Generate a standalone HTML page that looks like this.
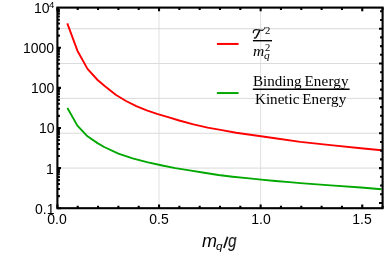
<!DOCTYPE html>
<html><head><meta charset="utf-8"><style>
html,body{margin:0;padding:0;background:#fff;}
body{width:387px;height:254px;position:relative;overflow:hidden;-webkit-font-smoothing:antialiased;font-family:"Liberation Sans",sans-serif;color:#000;}
.yl,.xl,.ax,.ser{will-change:transform;}
.yl{position:absolute;right:332.8px;height:16px;line-height:16px;font-size:14px;white-space:nowrap;text-align:right;}
.yl sup{font-size:9.5px;vertical-align:baseline;position:relative;top:-5.3px;margin-left:-0.6px;line-height:0;}
.xl{position:absolute;top:211.2px;width:40px;text-align:center;height:16px;line-height:16px;font-size:14px;}
.ax{position:absolute;left:202px;top:232px;font-size:16.5px;font-style:italic;line-height:20px;white-space:nowrap;}
.ax sub{font-size:11px;vertical-align:baseline;position:relative;top:4px;line-height:0;}
.en{margin-left:-1px;letter-spacing:0.17px;}
.ser{font-family:"Liberation Serif",serif;position:absolute;white-space:nowrap;color:#000;}
</style></head><body>
<svg width="387" height="254" viewBox="0 0 387 254" style="position:absolute;left:0;top:0">
<line x1="159.03" y1="7.6" x2="159.03" y2="208.2" stroke="#e0e0e0" stroke-width="1"/>
<line x1="260.65" y1="7.6" x2="260.65" y2="208.2" stroke="#e0e0e0" stroke-width="1"/>
<line x1="57.4" y1="28.69" x2="382.6" y2="28.69" stroke="#dadada" stroke-width="1"/>
<line x1="57.4" y1="63.54" x2="382.6" y2="63.54" stroke="#dadada" stroke-width="1"/>
<line x1="57.4" y1="98.38" x2="382.6" y2="98.38" stroke="#dadada" stroke-width="1"/>
<line x1="57.4" y1="133.23" x2="382.6" y2="133.23" stroke="#dadada" stroke-width="1"/>
<line x1="57.4" y1="168.08" x2="382.6" y2="168.08" stroke="#dadada" stroke-width="1"/>
<path d="M67.3,23.4 L77.4,50.7 L87.5,68.9 L97.6,80.0 L105.3,86.5 L115.7,94.8 L126.0,101.0 L136.3,106.2 L146.7,110.3 L157.0,113.8 L167.3,116.9 L179.2,120.5 L193.4,124.4 L207.6,127.6 L221.9,130.1 L236.1,132.7 L250.3,134.7 L264.5,136.7 L275.0,138.2 L300.3,141.9 L330.6,145.1 L360.9,148.2 L381.5,150.2" fill="none" stroke="#ff0000" stroke-width="1.9" stroke-linejoin="round"/>
<path d="M67.4,108.0 L77.4,125.6 L87.5,136.3 L97.5,143.1 L104.2,147.0 L118.4,153.6 L132.6,158.4 L146.9,162.1 L161.1,165.2 L175.3,168.1 L189.5,170.4 L204.2,172.7 L218.4,175.0 L232.6,176.7 L246.9,178.1 L261.1,179.6 L275.3,181.0 L289.5,182.1 L300.3,183.1 L330.6,185.4 L361.0,187.5 L381.5,189.2" fill="none" stroke="#00a800" stroke-width="1.9" stroke-linejoin="round"/>
<path d="M57.40,208.2v-3.6M57.40,7.6v3.6M77.72,208.2v-2.5M77.72,7.6v2.5M98.05,208.2v-2.5M98.05,7.6v2.5M118.38,208.2v-2.5M118.38,7.6v2.5M138.70,208.2v-2.5M138.70,7.6v2.5M159.03,208.2v-3.6M159.03,7.6v3.6M179.35,208.2v-2.5M179.35,7.6v2.5M199.68,208.2v-2.5M199.68,7.6v2.5M220.00,208.2v-2.5M220.00,7.6v2.5M240.33,208.2v-2.5M240.33,7.6v2.5M260.65,208.2v-3.6M260.65,7.6v3.6M280.98,208.2v-2.5M280.98,7.6v2.5M301.30,208.2v-2.5M301.30,7.6v2.5M321.62,208.2v-2.5M321.62,7.6v2.5M341.95,208.2v-2.5M341.95,7.6v2.5M362.27,208.2v-3.6M362.27,7.6v3.6M382.60,208.2v-2.5M382.60,7.6v2.5M57.4,208.20h3.6M57.4,196.12h2.5M57.4,189.06h2.5M57.4,184.05h2.5M57.4,180.16h2.5M57.4,176.98h2.5M57.4,174.29h2.5M57.4,171.97h2.5M57.4,169.92h2.5M57.4,168.08h3.6M57.4,156.00h2.5M57.4,148.94h2.5M57.4,143.93h2.5M57.4,140.04h2.5M57.4,136.86h2.5M57.4,134.17h2.5M57.4,131.85h2.5M57.4,129.80h2.5M57.4,127.96h3.6M57.4,115.88h2.5M57.4,108.82h2.5M57.4,103.81h2.5M57.4,99.92h2.5M57.4,96.74h2.5M57.4,94.05h2.5M57.4,91.73h2.5M57.4,89.68h2.5M57.4,87.84h3.6M57.4,75.76h2.5M57.4,68.70h2.5M57.4,63.69h2.5M57.4,59.80h2.5M57.4,56.62h2.5M57.4,53.93h2.5M57.4,51.61h2.5M57.4,49.56h2.5M57.4,47.72h3.6M57.4,35.64h2.5M57.4,28.58h2.5M57.4,23.57h2.5M57.4,19.68h2.5M57.4,16.50h2.5M57.4,13.81h2.5M57.4,11.49h2.5M57.4,9.44h2.5M382.6,202.93h-3.6M382.6,194.22h-2.5M382.6,185.50h-2.5M382.6,176.79h-2.5M382.6,168.08h-3.6M382.6,159.37h-2.5M382.6,150.66h-2.5M382.6,141.94h-2.5M382.6,133.23h-3.6M382.6,124.52h-2.5M382.6,115.81h-2.5M382.6,107.10h-2.5M382.6,98.38h-3.6M382.6,89.67h-2.5M382.6,80.96h-2.5M382.6,72.25h-2.5M382.6,63.54h-3.6M382.6,54.82h-2.5M382.6,46.11h-2.5M382.6,37.40h-2.5M382.6,28.69h-3.6M382.6,19.98h-2.5M382.6,11.26h-2.5" stroke="#000" stroke-width="2.1" fill="none"/>
<rect x="57.4" y="7.6" width="325.20000000000005" height="200.6" fill="none" stroke="#000" stroke-width="2.1"/>
<line x1="216.9" y1="43.95" x2="238.6" y2="43.95" stroke="#ff0000" stroke-width="2.0"/>
<line x1="216.9" y1="93.05" x2="238.6" y2="93.05" stroke="#00a800" stroke-width="2.0"/>
<line x1="252.9" y1="40.7" x2="272" y2="40.7" stroke="#000" stroke-width="1.4"/>
<line x1="252.8" y1="89.3" x2="349.6" y2="89.3" stroke="#000" stroke-width="1.4"/>
<path d="M253.3,32.7 C253.2,30.6 254.4,29.5 256.4,29.5 C258.8,29.5 260.4,30.5 262.3,30.4" fill="none" stroke="#111" stroke-width="1.25" stroke-linecap="round"/>
<path d="M262.3,30.4 C263.7,30.3 264.4,29.3 264.8,27.6" fill="none" stroke="#111" stroke-width="1.0" stroke-linecap="round"/>
<path d="M259.7,30.4 C258.7,33 257.3,35.4 256.1,37.4 C255.7,38 255.1,38.2 254.5,38" fill="none" stroke="#111" stroke-width="1.55" stroke-linecap="round"/>
<line x1="223.9" y1="247.9" x2="227.6" y2="236.8" stroke="#111" stroke-width="1.7"/>
</svg>
<div class="yl" style="top:0.0px">10<sup>4</sup></div><div class="yl" style="top:40.1px">1000</div><div class="yl" style="top:80.2px">100</div><div class="yl" style="top:120.4px">10</div><div class="yl" style="top:160.5px">1</div><div class="yl" style="top:200.6px">0.1</div><div class="xl" style="left:37.4px">0.0</div><div class="xl" style="left:139.0px">0.5</div><div class="xl" style="left:240.7px">1.0</div><div class="xl" style="left:342.3px">1.5</div>
<div class="ax" style="left:202.3px;top:231.3px;font-size:18px;transform:scaleX(0.97);transform-origin:0 0;">m</div>
<div class="ax" style="left:216.1px;top:235.5px;font-size:11.8px;">q</div>
<div class="ax" style="left:228.4px;top:231.3px;font-size:18px;transform:scaleX(0.84);transform-origin:0 0;">g</div>
<div class="ser" style="left:253.0px;top:71.2px;font-size:15.1px;line-height:20px;">Binding <span class="en">Energy</span></div>
<div class="ser" style="left:255.1px;top:88.7px;font-size:15.1px;line-height:20px;">Kinetic <span class="en">Energy</span></div>
<div class="ser" style="left:265.0px;top:20.6px;font-size:10.6px;line-height:20px;">2</div>
<div class="ser" style="left:253px;top:40.7px;font-size:15.6px;line-height:20px;font-style:italic;">m</div>
<div class="ser" style="left:264.7px;top:37.7px;font-size:10.6px;line-height:20px;">2</div>
<div class="ser" style="left:264.2px;top:45px;font-size:11.4px;line-height:20px;font-style:italic;">q</div>
</body></html>
